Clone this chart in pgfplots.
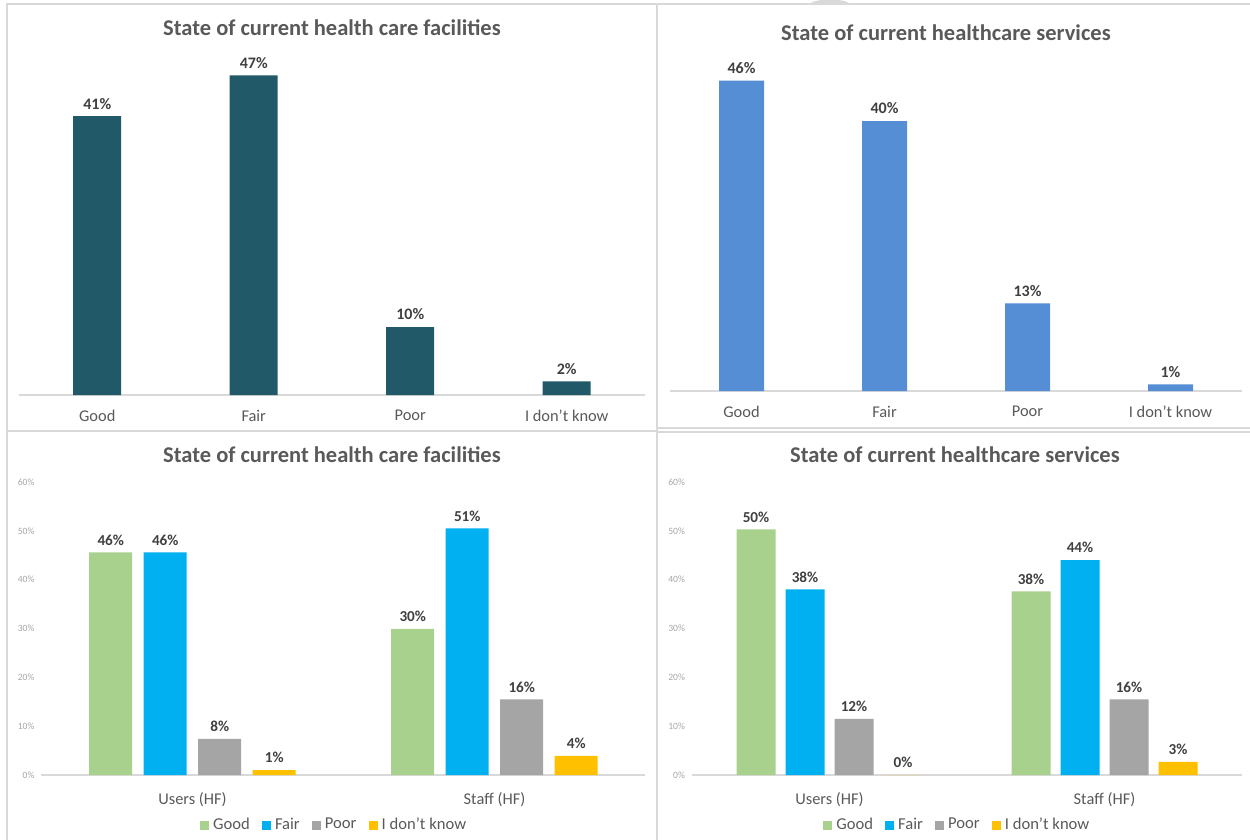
\documentclass[border=0pt]{standalone}
\usepackage{fontspec}
\setmainfont{Carlito}
\usepackage{pgfplots}
\pgfplotsset{compat=1.18}
\definecolor{cTeal}{HTML}{215968}
\definecolor{cBlue}{HTML}{558ED5}
\definecolor{cGood}{HTML}{A9D18E}
\definecolor{cFair}{HTML}{00B0F0}
\definecolor{cPoor}{HTML}{A5A5A5}
\definecolor{cIdk}{HTML}{FFC000}
\definecolor{cTitle}{HTML}{595959}
\definecolor{cLab}{HTML}{404040}
\definecolor{cAxis}{HTML}{D9D9D9}
\definecolor{cTick}{HTML}{A6A6A6}
\pgfplotsset{
  base/.style={
    scale only axis,
    axis x line*=bottom, axis y line*=left,
    x axis line style={-,draw=cAxis,line width=0.75pt},
    y axis line style={draw=none},
    major tick length=0pt,
    ybar, ymin=0, clip=false,
    xticklabel style={font=\fontsize{8.2}{9}\selectfont, text=cTitle, yshift=-4pt},
    point meta=explicit symbolic,
    nodes near coords={\pgfplotspointmeta\%},
    every node near coord/.append style={font=\bfseries\fontsize{8}{9}\selectfont, text=cLab},
    /pgf/number format/assume math mode=true,
  },
  bottomchart/.style={
    ymax=60, ytick={0,10,...,60},
    yticklabel={\pgfmathprintnumber{\tick}\%},
    yticklabel style={font=\fontsize{4.8}{5}\selectfont, text=cTick},
    xmin=-0.5, xmax=1.5, xtick={0,1}, xticklabels={Users (HF),Staff (HF)},
    xticklabel style={yshift=-1pt},
    every node near coord/.append style={font=\bfseries\fontsize{7.6}{9}\selectfont},
    legend columns=4,
    legend style={draw=none, fill=none, font=\fontsize{8.3}{9}\selectfont, text=cTitle,
      /tikz/every even column/.append style={column sep=4pt}},
  },
  sqlegend/.style={legend image code/.code={\fill[##1] (0pt,-2.3pt) rectangle (4.6pt,2.3pt);}},
}
\begin{document}
\begin{tikzpicture}[x=0.5pt,y=-0.5pt]
\useasboundingbox (0,0) rectangle (1250,840);
% panel frames
\draw[cAxis, line width=0.75pt] (7,840) -- (7,4) -- (1250,4);
\draw[cAxis, line width=0.75pt] (657,4) -- (657,840);
\draw[cAxis, line width=0.75pt] (7,431) -- (657,431);
\draw[cAxis, line width=0.75pt] (657,428) -- (1250,428);
\draw[cAxis, line width=0.75pt] (657,432) -- (1250,432);
\fill[cAxis] (810,4) .. controls (815,-2) and (845,-2) .. (850,4) -- cycle;
% anchors
\coordinate (tl) at (19,395);
\coordinate (tr) at (670,391);
\coordinate (bl) at (41.5,775);
\coordinate (br) at (692,775);
% titles
\node[font=\bfseries\fontsize{11.25}{13}\selectfont, text=cTitle] at (332,28) {State of current health care facilities};
\node[font=\bfseries\fontsize{11.25}{13}\selectfont, text=cTitle] at (946,33) {State of current healthcare services};
\node[font=\bfseries\fontsize{11.25}{13}\selectfont, text=cTitle] at (332,455) {State of current health care facilities};
\node[font=\bfseries\fontsize{11.25}{13}\selectfont, text=cTitle] at (955,455) {State of current healthcare services};

% top left
\begin{axis}[base, at={(tl)}, anchor=south west, width=313pt, height=170pt,
  xmin=-0.5, xmax=3.5, ymax=50, ytick=\empty, bar width=24pt,
  xtick={0,1,2,3}, xticklabels={Good,Fair,Poor,I don't know}]
\addplot[fill=cTeal, draw=none] coordinates {(0,41)[41] (1,47)[47] (2,10)[10] (3,2)[2]};
\end{axis}

% top right
\begin{axis}[base, at={(tr)}, anchor=south west, width=286pt, height=168.75pt,
  xmin=-0.5, xmax=3.5, ymax=50, ytick=\empty, bar width=22.5pt,
  xtick={0,1,2,3}, xticklabels={Good,Fair,Poor,I don't know}]
\addplot[fill=cBlue, draw=none] coordinates {(0,46)[46] (1,40)[40] (2,13)[13] (3,1)[1]};
\end{axis}

% bottom left
\begin{axis}[base, bottomchart, at={(bl)}, anchor=south west, width=302pt, height=146.5pt,
  bar width=21.5pt, ybar=5.75pt,
  legend style={at={(0.486,-0.171)}, anchor=center}]
\addplot[fill=cGood, draw=none, sqlegend] coordinates {(0,45.6)[46] (1,29.9)[30]};
\addplot[fill=cFair, draw=none, sqlegend] coordinates {(0,45.6)[46] (1,50.5)[51]};
\addplot[fill=cPoor, draw=none, sqlegend] coordinates {(0,7.4)[8] (1,15.5)[16]};
\addplot[fill=cIdk, draw=none, sqlegend] coordinates {(0,1.0)[1] (1,3.9)[4]};
\legend{Good,Fair,Poor,I don't know}
\end{axis}

% bottom right
\begin{axis}[base, bottomchart, at={(br)}, anchor=south west, width=275pt, height=146.5pt,
  bar width=19.5pt, ybar=5pt,
  legend style={at={(0.484,-0.171)}, anchor=center}]
\addplot[fill=cGood, draw=none, sqlegend] coordinates {(0,50.3)[50] (1,37.6)[38]};
\addplot[fill=cFair, draw=none, sqlegend] coordinates {(0,38.0)[38] (1,44.0)[44]};
\addplot[fill=cPoor, draw=none, sqlegend] coordinates {(0,11.5)[12] (1,15.5)[16]};
\addplot[fill=cIdk, draw=none, sqlegend] coordinates {(0,0)[0] (1,2.7)[3]};
\legend{Good,Fair,Poor,I don't know}
\end{axis}
\end{tikzpicture}
\end{document}
